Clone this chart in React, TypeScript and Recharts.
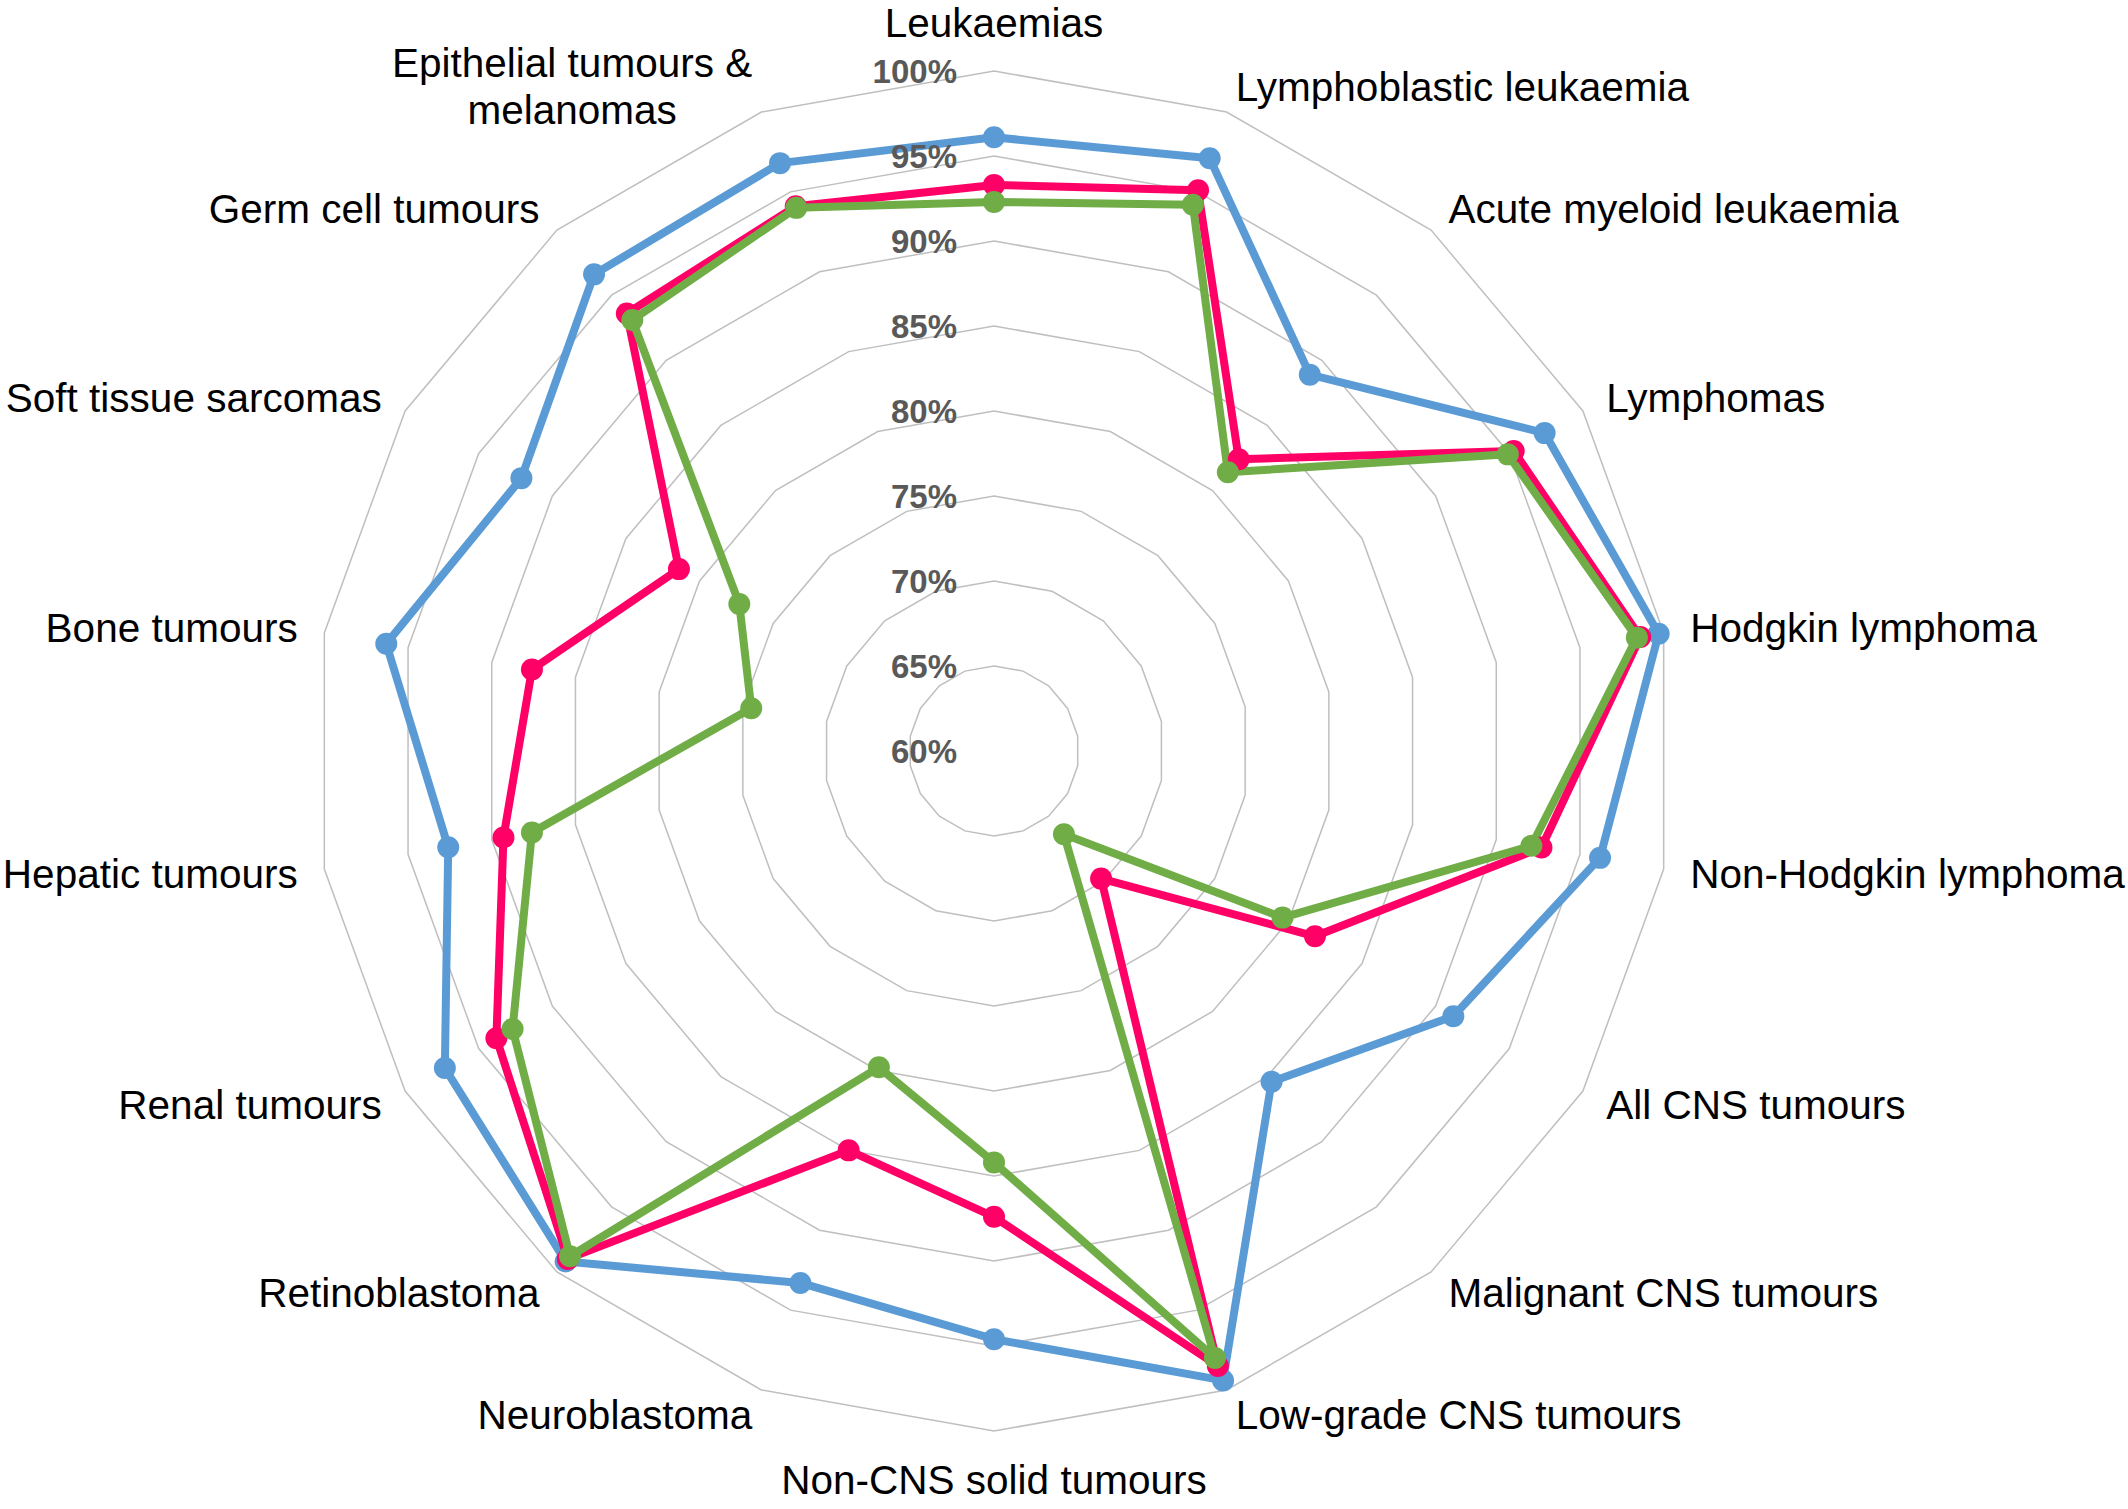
import { RadarChart, Radar, PolarGrid, PolarAngleAxis, PolarRadiusAxis } from "recharts";

const categories = [
    "Leukaemias",
    "Lymphoblastic leukaemia",
    "Acute myeloid leukaemia",
    "Lymphomas",
    "Hodgkin lymphoma",
    "Non-Hodgkin lymphoma",
    "All CNS tumours",
    "Malignant CNS tumours",
    "Low-grade CNS tumours",
    "Non-CNS solid tumours",
    "Neuroblastoma",
    "Retinoblastoma",
    "Renal tumours",
    "Hepatic tumours",
    "Bone tumours",
    "Soft tissue sarcomas",
    "Germ cell tumours",
    "Epithelial tumours & melanomas",
];

// survival (%) per category, one array per series
const blueSeries = [96.1, 97.1, 88.9, 97.4, 99.7, 96.2, 91.2, 85.4, 99.4, 94.6, 93.3, 99.2, 97.3, 92.6, 96.3, 92.1, 96.6, 96.8];
const redSeries = [93.3, 95.1, 82.4, 95.3, 98.6, 92.7, 81.8, 69.8, 98.5, 87.4, 85.0, 99.0, 93.8, 89.3, 87.6, 81.4, 93.6, 94.1];
const greenSeries = [92.3, 94.2, 81.4, 94.9, 98.4, 92.1, 79.6, 66.4, 98.0, 84.2, 79.8, 98.8, 92.7, 87.6, 74.5, 77.3, 93.1, 94.0];

const radiusDomain = [60, 100];
const radiusTickCount = 9;

// labels that wrap onto two lines in the original
const labelLines: Record<string, string[]> = {
    "Epithelial tumours & melanomas": ["Epithelial tumours &", "melanomas"],
};

const data = categories.map((category, i) => ({
    category,
    blue: blueSeries[i],
    red: redSeries[i],
    green: greenSeries[i],
}));

const W = 2128;
const H = 1509;
const CX = 994;
const CY = 751;
const R = 680;
const FONT = '"Liberation Sans", Arial, sans-serif';
const LABEL_SIZE = 40.5;
const LINE_GAP = 47;

let ctx: CanvasRenderingContext2D | null = null;
function textWidth(t: string) {
    if (!ctx && typeof document !== "undefined") {
        ctx = document.createElement("canvas").getContext("2d");
    }
    if (!ctx) return t.length * LABEL_SIZE * 0.5;
    ctx.font = `${LABEL_SIZE}px ${FONT}`;
    return ctx.measureText(t).width;
}

function CategoryTick(props: any) {
    const { payload } = props;
    const rad = (payload.coordinate * Math.PI) / 180;
    const s = Math.cos(rad);
    const c = Math.sin(rad);
    const vx = CX + R * s;
    const vy = CY - R * c;
    const lines = labelLines[payload.value] ?? [payload.value];

    let x: number;
    let yc: number;
    let anchor: "start" | "end" | "middle";
    if (Math.abs(s) < 0.01) {
        anchor = "middle";
        x = vx;
        yc = c > 0 ? vy - 48 : vy + 49;
    } else {
        anchor = s > 0 ? "start" : "end";
        x = vx + 27 * s;
        yc = vy - 27 * c;
    }

    if (lines.length === 1) {
        return (
            <text x={x} y={yc + 14} textAnchor={anchor} fontFamily={FONT} fontSize={LABEL_SIZE} fill="#000">
                {lines[0]}
            </text>
        );
    }

    const blockW = Math.max(...lines.map(textWidth));
    const mid = anchor === "start" ? x + blockW / 2 : anchor === "end" ? x - blockW / 2 : x;
    const top = yc - ((lines.length - 1) * LINE_GAP) / 2;
    return (
        <g>
            {lines.map((l, i) => (
                <text key={i} x={mid} y={top + i * LINE_GAP + 14} textAnchor="middle" fontFamily={FONT} fontSize={LABEL_SIZE} fill="#000">
                    {l}
                </text>
            ))}
        </g>
    );
}

function RadiusTick(props: any) {
    const { x, y, payload } = props;
    return (
        <text x={x - 37} y={y + 12} textAnchor="end" fontFamily={FONT} fontSize={33} fontWeight="bold" fill="#595959">
            {`${payload.value}%`}
        </text>
    );
}

const makeDot = (color: string) => (p: any) => (
    <circle key={`${color}-${p.index}`} cx={p.cx} cy={p.cy} r={11} fill={color} stroke="none" />
);

export default function App() {
    return (
        <div style={{ position: "absolute", left: 0, top: 0, width: W, height: H, background: "#fff" }}>
            <RadarChart
                width={W}
                height={H}
                data={data}
                cx={CX}
                cy={CY}
                outerRadius={R}
                startAngle={90}
                endAngle={-270}
                margin={{ top: 0, right: 0, bottom: 0, left: 0 }}
            >
                <PolarGrid gridType="polygon" radialLines={false} stroke="#BFBFBF" strokeWidth={1.5} />
                <PolarAngleAxis dataKey="category" axisLine={false} tickLine={false} tick={<CategoryTick />} />
                <PolarRadiusAxis
                    angle={90}
                    domain={radiusDomain}
                    tickCount={radiusTickCount}
                    axisLine={false}
                    tickLine={false}
                    tick={<RadiusTick />}
                />
                <Radar
                    dataKey="blue"
                    stroke="#5B9BD5"
                    strokeWidth={8}
                    strokeLinejoin="round"
                    fill="none"
                    fillOpacity={0}
                    dot={makeDot("#5B9BD5")}
                    isAnimationActive={false}
                />
                <Radar
                    dataKey="red"
                    stroke="#FF0066"
                    strokeWidth={8}
                    strokeLinejoin="round"
                    fill="none"
                    fillOpacity={0}
                    dot={makeDot("#FF0066")}
                    isAnimationActive={false}
                />
                <Radar
                    dataKey="green"
                    stroke="#70AD47"
                    strokeWidth={8}
                    strokeLinejoin="round"
                    fill="none"
                    fillOpacity={0}
                    dot={makeDot("#70AD47")}
                    isAnimationActive={false}
                />
            </RadarChart>
        </div>
    );
}
